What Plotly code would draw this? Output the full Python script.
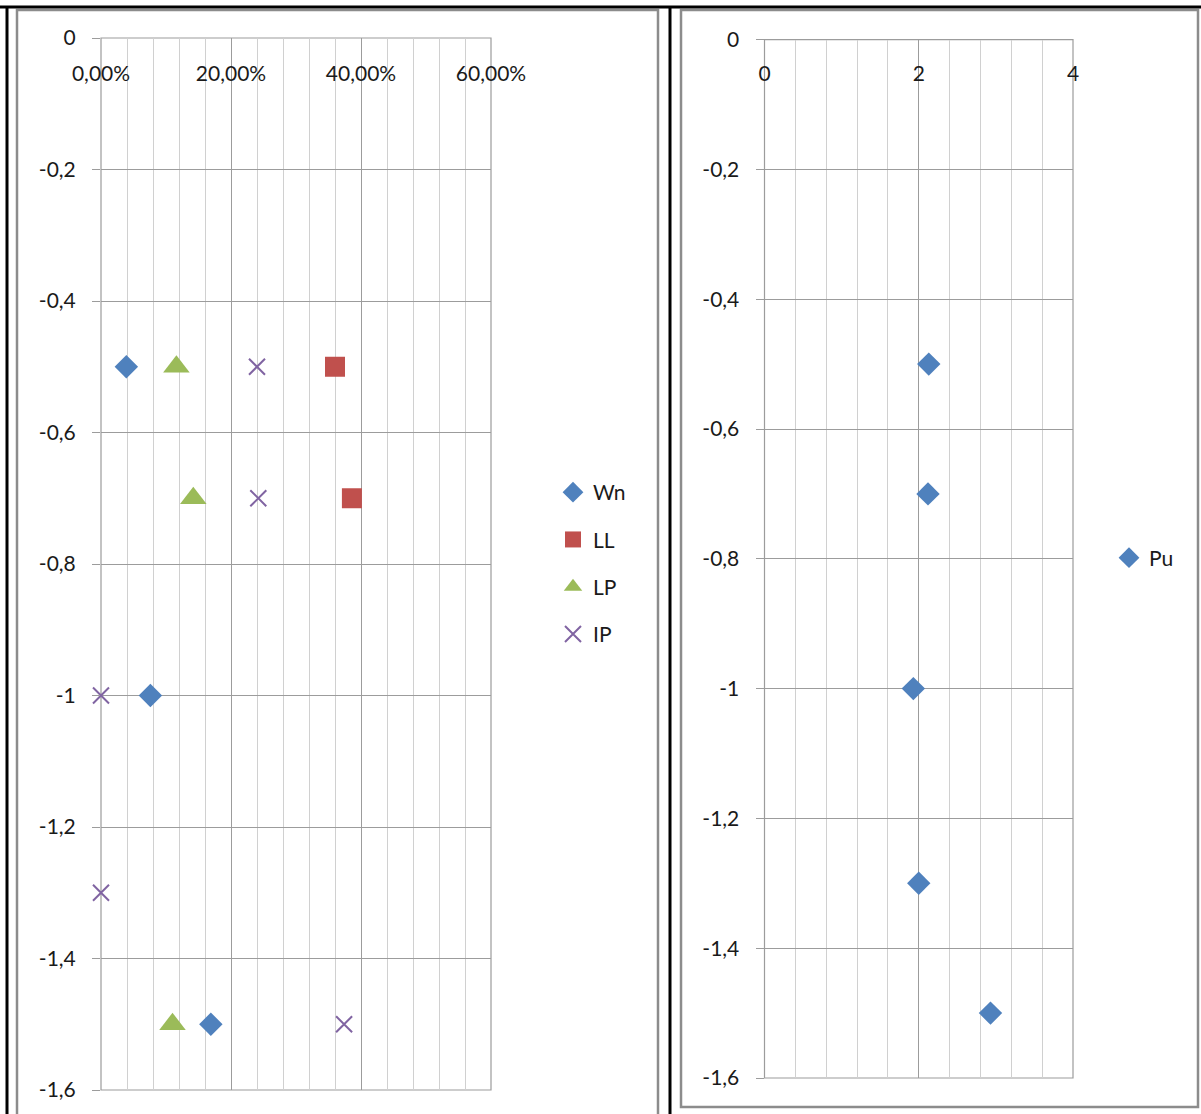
import plotly.graph_objects as go

W, H = 1201, 1114

# ---------------- data ----------------
depth = [-0.5, -0.7, -1.0, -1.3, -1.5]
wn = [0.039, None, 0.076, None, 0.169]
ll = [0.360, 0.386, None, None, None]
lp = [0.116, 0.142, None, None, 0.110]
ip = [0.240, 0.242, 0.0, 0.0, 0.374]
pu = [2.13, 2.12, 1.93, 2.00, 2.93]

y_tick_vals = [0, -0.2, -0.4, -0.6, -0.8, -1.0, -1.2, -1.4, -1.6]
y_tick_text = ["0", "-0,2", "-0,4", "-0,6", "-0,8", "-1", "-1,2", "-1,4", "-1,6"]
x1_tick_vals = [0, 0.2, 0.4, 0.6]
x1_tick_text = ["0,00%", "20,00%", "40,00%", "60,00%"]
x2_tick_vals = [0, 2, 4]
x2_tick_text = ["0", "2", "4"]

FONT = "Lato"
TXT = "#1a1a1a"
MAJ = "#9c9c9c"
MIN = "#d0d0d0"
FS = 21


def px(x):
    return x / W


def py(y):
    return 1 - y / H


fig = go.Figure()

common = dict(mode="markers", cliponaxis=False)
fig.add_trace(go.Scatter(x=wn, y=depth, name="Wn", legendgroup="a", legend="legend",
                         marker=dict(symbol="diamond", size=18, color="#4F81BD", line=dict(width=0)),
                         **common))
fig.add_trace(go.Scatter(x=ll, y=depth, name="LL", legendgroup="b", legend="legend",
                         marker=dict(symbol="square", size=20, color="#C0504D", line=dict(width=0)),
                         **common))
fig.add_trace(go.Scatter(x=lp, y=depth, name="LP", legendgroup="c", legend="legend",
                         marker=dict(symbol="triangle-up", size=23, color="#9BBB59", line=dict(width=0)),
                         **common))
fig.add_trace(go.Scatter(x=ip, y=depth, name="IP", legendgroup="d", legend="legend",
                         marker=dict(symbol="x-thin-open", size=16, color="#8064A2",
                                     line=dict(width=2, color="#8064A2")),
                         **common))
fig.add_trace(go.Scatter(x=pu, y=depth, name="Pu", legend="legend2", xaxis="x2", yaxis="y2",
                         marker=dict(symbol="diamond", size=18, color="#4F81BD", line=dict(width=0)),
                         **common))

xcommon = dict(side="bottom", anchor="free", ticks="", showgrid=True, automargin=False,
               gridcolor=MAJ, gridwidth=1, zeroline=False, showline=False,
               tickfont=dict(family=FONT, size=FS, color=TXT),
               ticklabelstandoff=0, fixedrange=True)
ycommon = dict(range=[-1.6, 0], tickmode="array", tickvals=y_tick_vals, ticktext=y_tick_text,
               ticks="outside", ticklen=8, tickcolor=MAJ, showgrid=True, gridcolor=MAJ,
               zeroline=False, showline=False, automargin=False,
               tickfont=dict(family=FONT, size=FS, color=TXT), ticklabelstandoff=12,
               fixedrange=True)

fig.update_layout(
    width=W, height=H,
    margin=dict(l=0, r=0, t=0, b=0),
    paper_bgcolor="white", plot_bgcolor="white",
    separators=", ",
    font=dict(family=FONT, size=FS, color=TXT),
    xaxis=dict(domain=[px(101), px(491)], range=[0, 0.6], position=py(59),
               tickmode="array", tickvals=x1_tick_vals, ticktext=x1_tick_text,
               minor=dict(dtick=0.04, tick0=0, showgrid=True, gridcolor=MIN, gridwidth=1),
               **xcommon),
    yaxis=dict(domain=[py(1090), py(38)], anchor="x", **ycommon),
    xaxis2=dict(domain=[px(764.5), px(1073)], range=[0, 4], position=py(59),
                tickmode="array", tickvals=x2_tick_vals, ticktext=x2_tick_text,
                minor=dict(dtick=0.4, tick0=0, showgrid=True, gridcolor=MIN, gridwidth=1),
                **xcommon),
    yaxis2=dict(domain=[py(1078), py(39.6)], anchor="x2", **ycommon),
    legend=dict(x=px(553), xanchor="left", y=py(472), yanchor="top",
                font=dict(family=FONT, size=FS, color=TXT), bgcolor="rgba(0,0,0,0)",
                tracegroupgap=17, traceorder="grouped", itemclick=False),
    legend2=dict(x=px(1109), xanchor="left", y=py(558), yanchor="middle",
                 font=dict(family=FONT, size=FS, color=TXT), bgcolor="rgba(0,0,0,0)",
                 itemclick=False),
    showlegend=True,
)

shapes = []
# plot-area frames (the grid's outer lines)
for xr, yr in [("x domain", "y domain"), ("x2 domain", "y2 domain")]:
    shapes.append(dict(type="rect", xref=xr, yref=yr, x0=0, y0=0, x1=1, y1=1,
                       line=dict(color=MAJ, width=1.2), layer="below"))
# chart area borders
shapes.append(dict(type="rect", xref="paper", yref="paper",
                   x0=px(17), y0=py(H + 20), x1=px(658), y1=py(10),
                   line=dict(color="#8c8c8c", width=2.5)))
shapes.append(dict(type="rect", xref="paper", yref="paper",
                   x0=px(681), y0=py(1107), x1=px(1198), y1=py(10),
                   line=dict(color="#8c8c8c", width=2.5)))
# table black borders
for x0, y0, x1, y1 in [(0, 7, W, 7), (7, 6, 7, H + 5), (670, 6, 670, H + 5)]:
    shapes.append(dict(type="line", xref="paper", yref="paper",
                       x0=px(x0), y0=py(y0), x1=px(x1), y1=py(y1),
                       line=dict(color="black", width=3)))
fig.update_layout(shapes=shapes)

fig.write_html("out.html", config={"displayModeBar": False, "staticPlot": False},
               post_script="document.body.style.margin='0';")
